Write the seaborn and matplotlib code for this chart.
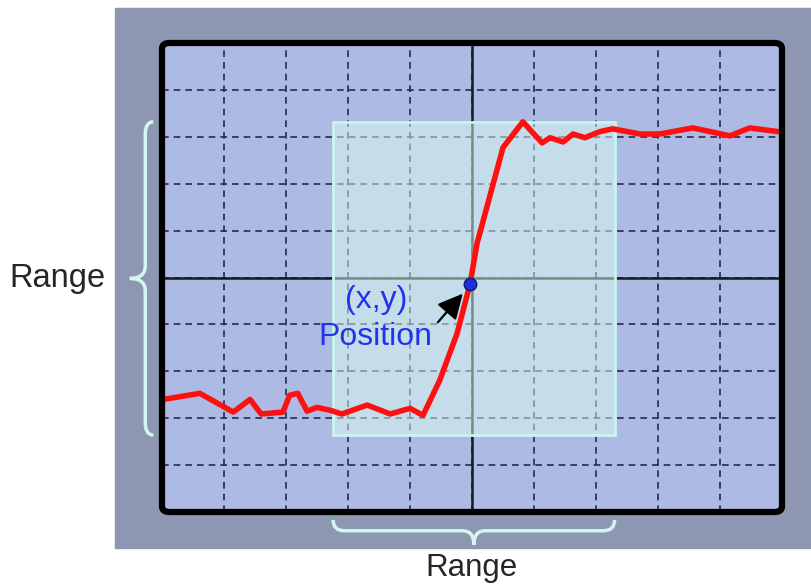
import numpy as np
import matplotlib
matplotlib.use("Agg")
import matplotlib.pyplot as plt
import seaborn as sns
from matplotlib.patches import Rectangle, FancyBboxPatch, PathPatch
from matplotlib.path import Path

# scope screen: 10 x 10 divisions, centred on 0
div_x = list(range(-5, 6))
div_y = list(range(-5, 6))

# red signal trace (divisions)
sig_x = [-4.98, -4.39, -3.85, -3.58, -3.40, -3.05, -2.94, -2.81, -2.66, -2.50,
         -2.29, -2.10, -1.69, -1.32, -1.00, -0.79, -0.52, -0.24, -0.03, 0.08,
         0.50, 0.82, 1.13, 1.26, 1.47, 1.63, 1.82, 2.06, 2.27, 2.71, 3.03,
         3.56, 4.16, 4.48, 4.94]
sig_y = [-2.60, -2.47, -2.87, -2.60, -2.91, -2.87, -2.51, -2.47, -2.85, -2.77,
         -2.83, -2.91, -2.72, -2.91, -2.79, -2.94, -2.19, -1.19, -0.13, 0.72,
         2.77, 3.32, 2.87, 2.98, 2.89, 3.06, 2.98, 3.11, 3.17, 3.06, 3.06,
         3.19, 3.02, 3.19, 3.11]

# zoom window (the "Range" box) and its position point
box_x = [-2.24, 2.30]
box_y = [-3.36, 3.32]
pos_xy = [-0.03, -0.13]

title_pos = "(x,y)"
title_pos2 = "Position"
range_label = "Range"

FONT = ["Liberation Sans", "DejaVu Sans"]
SCREEN = "#ADBBE4"
BEZEL = "#8D97B1"
BRACE = "#D2F7F0"


def brace(ax, a0, a1, body, tip, end, vertical):
    mid = (a0 + a1) / 2
    d = (a1 - a0) * 0.04
    pts = [(end, a1), (body, a1), (body, a1 - d),
           (body, mid + d), (body, mid), (tip, mid),
           (body, mid), (body, mid - d),
           (body, a0 + d), (body, a0), (end, a0)]
    codes = [Path.MOVETO, Path.CURVE3, Path.CURVE3,
             Path.LINETO, Path.CURVE3, Path.CURVE3,
             Path.CURVE3, Path.CURVE3,
             Path.LINETO, Path.CURVE3, Path.CURVE3]
    if not vertical:
        pts = [(p[1], p[0]) for p in pts]
    ax.add_patch(PathPatch(Path(pts, codes), fill=False, ec=BRACE, lw=2.5,
                           clip_on=False, zorder=5))


fig = plt.figure(figsize=(8.12, 5.84), dpi=100)
fig.patch.set_facecolor("white")
fig.add_artist(Rectangle((115 / 812, 36 / 584), 697 / 812, 540 / 584,
                         transform=fig.transFigure, color=BEZEL, zorder=0))

ax = fig.add_axes([162 / 812, 72 / 584, 620 / 812, 469 / 584])
ax.set_facecolor(SCREEN)
ax.set_xlim(-5, 5)
ax.set_ylim(-5, 5)
ax.set_xticks(div_x)
ax.set_yticks(div_y)
ax.tick_params(length=0, labelbottom=False, labelleft=False)
for s in ax.spines.values():
    s.set_visible(False)
ax.set_axisbelow(True)
ax.grid(True, color="#232C48", lw=1.2, ls=(0, (4, 3)))

ax.axhline(0, color="#141C18", lw=1.8, zorder=1.5)
ax.axvline(0, color="#141C18", lw=1.8, zorder=1.5)

ax.add_patch(Rectangle((box_x[0], box_y[0]), box_x[1] - box_x[0], box_y[1] - box_y[0],
                       fc="#DDFFF2", alpha=0.5, ec="none", zorder=2))
ax.add_patch(Rectangle((box_x[0], box_y[0]), box_x[1] - box_x[0], box_y[1] - box_y[0],
                       fill=False, ec="#C8F5EE", lw=2, zorder=2.1))

sns.lineplot(x=sig_x, y=sig_y, sort=False, color="#FF1010", lw=4, ax=ax, zorder=3)
ax.plot(pos_xy[0], pos_xy[1], "o", ms=9, mfc="#1A2EE0", mec="#10186A", mew=1, zorder=4)

ax.text(-1.55, -0.47, title_pos, color="#2233EE", fontsize=23, family=FONT,
        ha="center", va="center", zorder=5)
ax.text(-1.56, -1.27, title_pos2, color="#2233EE", fontsize=23, family=FONT,
        ha="center", va="center", zorder=5)
ax.annotate("", xy=(-0.12, -0.30), xytext=(-0.58, -1.0),
            arrowprops=dict(arrowstyle="-|>", color="black", lw=1.6, mutation_scale=38),
            zorder=5)

# outer screen frame
ax.add_patch(FancyBboxPatch((0, 0), 1, 1, boxstyle="round,pad=0,rounding_size=0.012",
                            transform=ax.transAxes, fill=False, ec="black", lw=4.5,
                            clip_on=False, zorder=6))

# range braces
brace(ax, box_y[0], box_y[1], -5.27, -5.52, -5.14, vertical=True)
brace(ax, box_x[0], box_x[1], -5.40, -5.70, -5.17, vertical=False)

ax.text(-6.69, -0.02, range_label, fontsize=23.5, family=FONT, color="#262626",
        ha="center", va="center", clip_on=False)
ax.text(0.0, -6.37, range_label, fontsize=22.5, family=FONT, color="#262626",
        ha="center", va="baseline", clip_on=False)

fig.savefig("out.png", dpi=100)
